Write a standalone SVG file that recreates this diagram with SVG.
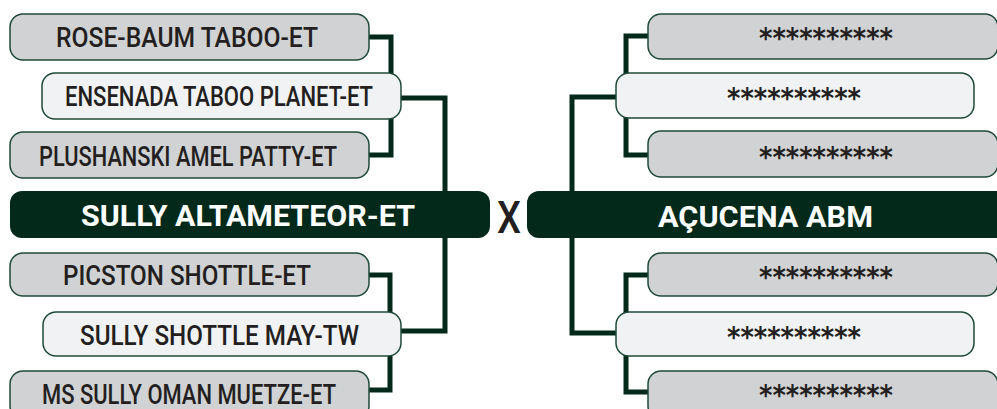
<svg xmlns="http://www.w3.org/2000/svg" width="997" height="409" viewBox="0 0 997 409">
<style>
.g{fill:#d1d2d4;stroke:#1f4a37;stroke-width:1.5}
.l{fill:#f1f2f4;stroke:#1f4a37;stroke-width:1.5}
.m{fill:#03291a}
.t{font-family:Roboto,"Liberation Sans",sans-serif;font-size:27px;font-weight:500;fill:#231f20}
.mt{font-family:Roboto,"Liberation Sans",sans-serif;font-size:29px;font-weight:700;fill:#ffffff}
.a{font-family:"DejaVu Sans",sans-serif;font-size:28px;font-weight:700;fill:#231f20}
.c{fill:none;stroke:#03291a;stroke-width:5}
</style>
<rect width="997" height="409" fill="#ffffff"/>
<g id="connectors">
<polyline class="c" points="369,37 391,37 391,74"/>
<polyline class="c" points="391,118 391,155 369,155"/>
<polyline class="c" points="401,98 445,98 445,331 401,331"/>
<polyline class="c" points="369,275 390,275 390,313"/>
<polyline class="c" points="390,355 390,390 369,390"/>
<polyline class="c" points="616,97 572,97 572,333 616,333"/>
<polyline class="c" points="648,36 626,36 626,74"/>
<polyline class="c" points="626,117 626,155 648,155"/>
<polyline class="c" points="648,275 626,275 626,313"/>
<polyline class="c" points="626,355 626,392 648,392"/>
</g>
<g id="n-rose"><rect class="g" x="10" y="14" width="359" height="46" rx="13"/><text class="t" x="56" y="47" textLength="262" lengthAdjust="spacingAndGlyphs">ROSE-BAUM TABOO-ET</text></g>
<g id="n-ensenada"><rect class="l" x="42" y="73" width="359" height="46" rx="13"/><text class="t" x="65" y="106" textLength="308" lengthAdjust="spacingAndGlyphs">ENSENADA TABOO PLANET-ET</text></g>
<g id="n-plushanski"><rect class="g" x="10" y="132" width="359" height="46" rx="13"/><text class="t" x="39" y="166" textLength="298" lengthAdjust="spacingAndGlyphs">PLUSHANSKI AMEL PATTY-ET</text></g>
<g id="n-sully-alta"><rect class="m" x="10" y="191" width="480" height="47" rx="12"/><text class="mt" x="81" y="226" textLength="334" lengthAdjust="spacingAndGlyphs">SULLY ALTAMETEOR-ET</text></g>
<g id="n-picston"><rect class="g" x="10" y="253" width="359" height="43" rx="13"/><text class="t" x="63" y="285" textLength="248" lengthAdjust="spacingAndGlyphs">PICSTON SHOTTLE-ET</text></g>
<g id="n-sully-may"><rect class="l" x="43" y="312" width="358" height="44" rx="13"/><text class="t" x="80" y="345" textLength="279" lengthAdjust="spacingAndGlyphs">SULLY SHOTTLE MAY-TW</text></g>
<g id="n-ms-sully"><rect class="g" x="10" y="371" width="359" height="48" rx="13"/><text class="t" x="42" y="404" textLength="294" lengthAdjust="spacingAndGlyphs">MS SULLY OMAN MUETZE-ET</text></g>
<g id="x-label"><text x="497" y="233" textLength="24" lengthAdjust="spacingAndGlyphs" style="font-family:Roboto,'Liberation Sans',sans-serif;font-size:45px;font-weight:500;fill:#231f20">X</text></g>
<g id="n-acucena"><rect class="m" x="527" y="191" width="490" height="47" rx="12"/><text class="mt" x="658" y="227" textLength="215" lengthAdjust="spacingAndGlyphs">AÇUCENA ABM</text></g>
<g id="n-r1"><rect class="g" x="648" y="14" width="350" height="45" rx="13"/><text class="a" x="759" y="48" textLength="134" lengthAdjust="spacingAndGlyphs">**********</text></g>
<g id="n-r2"><rect class="l" x="616" y="73" width="358" height="45" rx="13"/><text class="a" x="727" y="108" textLength="134" lengthAdjust="spacingAndGlyphs">**********</text></g>
<g id="n-r3"><rect class="g" x="648" y="131" width="350" height="46" rx="13"/><text class="a" x="759" y="167" textLength="134" lengthAdjust="spacingAndGlyphs">**********</text></g>
<g id="n-r4"><rect class="g" x="648" y="253" width="350" height="43" rx="13"/><text class="a" x="759" y="287" textLength="134" lengthAdjust="spacingAndGlyphs">**********</text></g>
<g id="n-r5"><rect class="l" x="616" y="312" width="358" height="44" rx="13"/><text class="a" x="727" y="347" textLength="134" lengthAdjust="spacingAndGlyphs">**********</text></g>
<g id="n-r6"><rect class="g" x="648" y="371" width="350" height="48" rx="13"/><text class="a" x="759" y="405" textLength="134" lengthAdjust="spacingAndGlyphs">**********</text></g>
</svg>
